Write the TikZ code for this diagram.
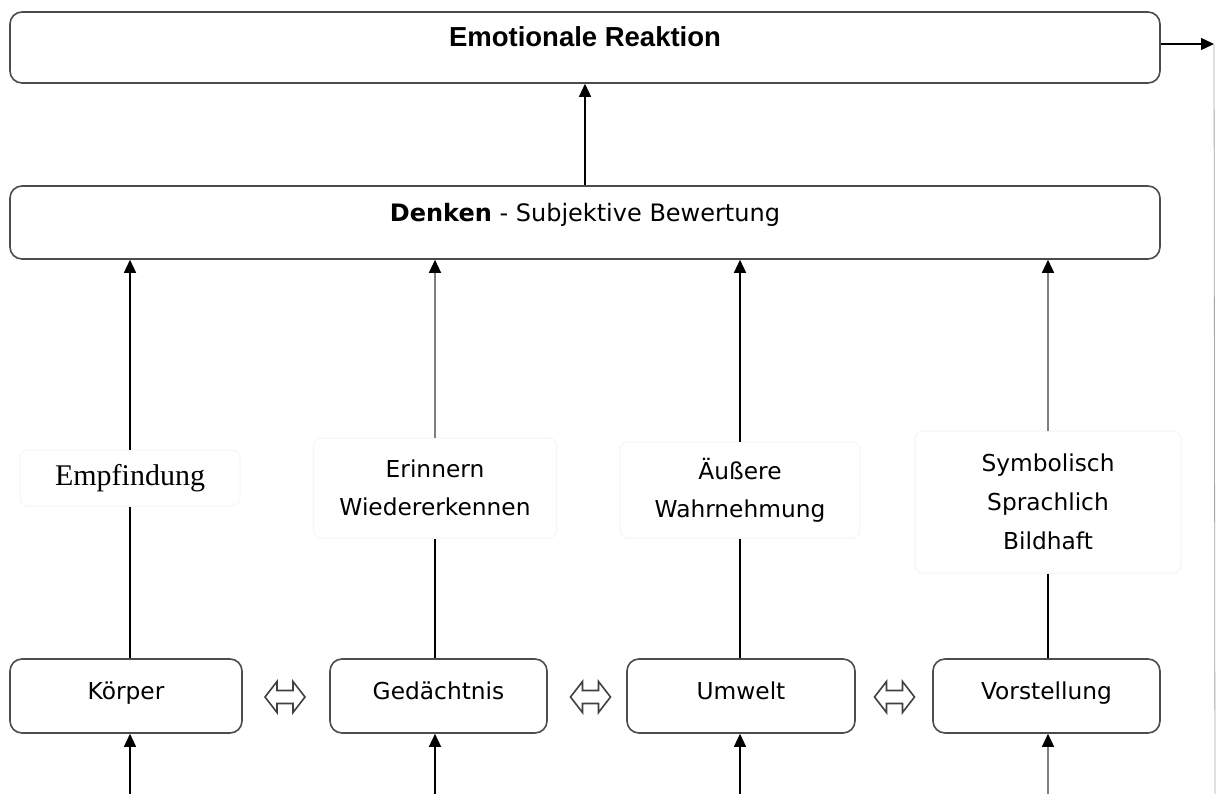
\documentclass[tikz,border=0pt]{standalone}
\usepackage{fontspec}
\setmainfont{DejaVu Sans}
\newfontfamily\reaktionfont{Liberation Sans}
\newfontfamily\empffont{Liberation Serif}
\usetikzlibrary{arrows.meta}
\tikzset{
  kasten/.style={draw=black!70,line width=1.6pt,rounded corners=12pt,inner sep=0pt,fill=white},
  etikett/.style={draw=black!4,line width=1pt,rounded corners=8pt,inner sep=0pt,align=center,font=\fontsize{23.3}{38}\selectfont},
  wechsel/.style={draw=black!75,line width=1.6pt,fill=white,line join=miter},
  grau/.style={draw=black!50}
}

\begin{document}
\begin{tikzpicture}[x=1pt,y=-1pt,>={Triangle[length=13pt,width=12pt,color=black]},line width=1.4pt]
    \useasboundingbox (0,0) rectangle (1216,794);

    % 两个长框
    \node[kasten,minimum width=1150pt,text height=35pt,text depth=36pt,font=\reaktionfont\bfseries\fontsize{27.5}{30}\selectfont] (reaktion) at (585,47.5) {Emotionale Reaktion};
    \node[kasten,minimum width=1150pt,text height=36pt,text depth=37pt,font=\fontsize{24}{28}\selectfont] (denken) at (585,222.5) {\textbf{Denken} - Subjektive Bewertung};

    % 下方四个框
    \node[kasten,minimum width=232pt,text height=40pt,text depth=34pt,font=\fontsize{23.3}{28}\selectfont] (koerper) at (126,696) {Körper};
    \node[kasten,minimum width=217pt,text height=40pt,text depth=34pt,font=\fontsize{23.3}{28}\selectfont] (gedaechtnis) at (438.5,696) {Gedächtnis};
    \node[kasten,minimum width=228pt,text height=40pt,text depth=34pt,font=\fontsize{23.3}{28}\selectfont] (umwelt) at (741,696) {Umwelt};
    \node[kasten,minimum width=227pt,text height=40pt,text depth=34pt,font=\fontsize{23.3}{28}\selectfont] (vorstellung) at (1046.5,696) {Vorstellung};

    % 中间的标签
    \node[etikett,minimum width=220pt,minimum height=56pt,font=\empffont\fontsize{30}{34}\selectfont] (empfindung) at (130,478) {Empfindung};
    \node[etikett,minimum width=243pt,minimum height=100pt] (erinnern) at (435,488) {Erinnern\\Wiedererkennen};
    \node[etikett,minimum width=240pt,minimum height=96pt] (wahrnehmung) at (740,490) {Äußere\\Wahrnehmung};
    \node[etikett,minimum width=266pt,minimum height=142pt,font=\fontsize{23.3}{39}\selectfont] (symbolisch) at (1048,502) {Symbolisch\\Sprachlich\\Bildhaft};

    % 双向箭头
    \foreach \wx in {285,590.5,894.5}
        \draw[wechsel] (\wx-20,697) -- ++(12,-15.5) -- ++(0,9) -- ++(16,0) -- ++(0,-9) -- ++(12,15.5)
            -- ++(-12,15.5) -- ++(0,-9) -- ++(-16,0) -- ++(0,9) -- cycle;

    % 向上的箭头
    \draw[->] (denken) -- (reaktion);
    \draw[->] (empfindung.north) -- (empfindung.north |- denken.south);
    \draw[->,grau] (erinnern.north) -- (erinnern.north |- denken.south);
    \draw[->] (wahrnehmung.north) -- (wahrnehmung.north |- denken.south);
    \draw[->,grau] (symbolisch.north) -- (symbolisch.north |- denken.south);

    % 标签到框的线
    \draw (empfindung.south) -- (empfindung.south |- koerper.north);
    \draw (erinnern.south) -- (erinnern.south |- gedaechtnis.north);
    \draw (wahrnehmung.south) -- (wahrnehmung.south |- umwelt.north);
    \draw (symbolisch.south) -- (symbolisch.south |- vorstellung.north);

    % 从下方进入的箭头
    \coordinate (e1) at (130,794);
    \coordinate (e2) at (435,794);
    \coordinate (e3) at (740,794);
    \coordinate (e4) at (1048,794);
    \draw[->] (e1) -- (e1 |- koerper.south);
    \draw[->] (e2) -- (e2 |- gedaechtnis.south);
    \draw[->] (e3) -- (e3 |- umwelt.south);
    \draw[->,grau] (e4) -- (e4 |- vorstellung.south);

    % 右侧输出
    \coordinate (ausgang) at (1214,44);
    \coordinate (rand) at (1215,794);
    \draw[->] (reaktion.east |- ausgang) -- (ausgang);
    \draw[draw=black!35,line width=0.8pt] (ausgang) -- (rand);
\end{tikzpicture}
\end{document}
